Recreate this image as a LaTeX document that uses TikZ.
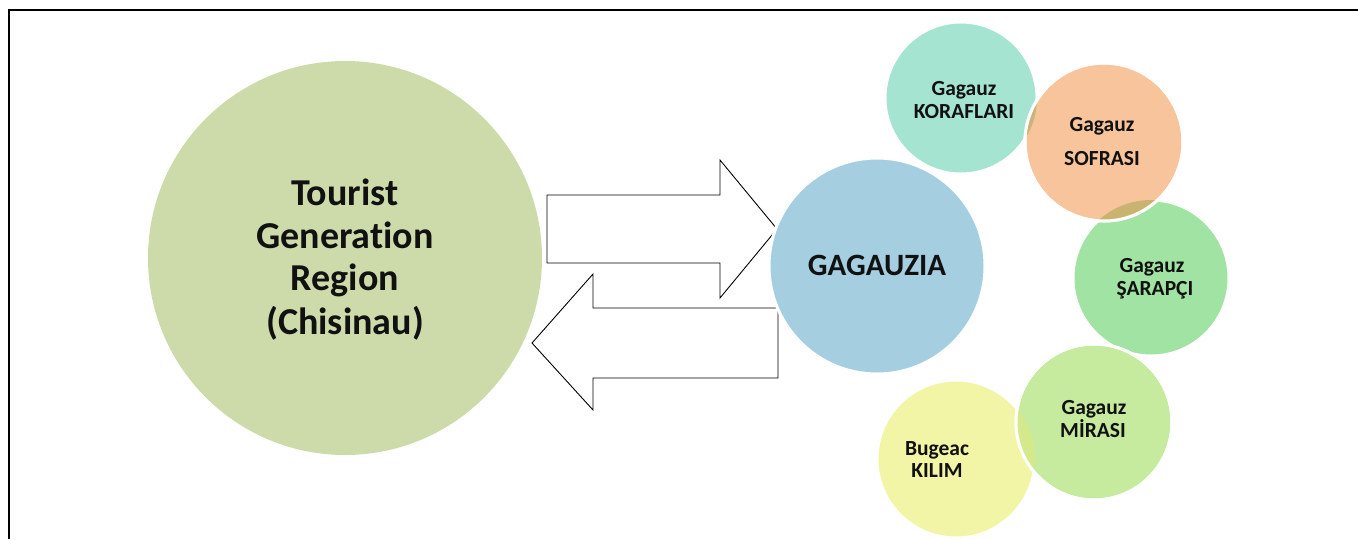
\documentclass[tikz,border=0pt]{standalone}
\usepackage{fontspec}
\setmainfont{Carlito}[Ligatures=NoCommon]
\definecolor{bigG}{HTML}{CCDBA9}
\definecolor{blueC}{HTML}{A5CFE0}
\definecolor{tealC}{HTML}{A5E4D1}
\definecolor{peachC}{HTML}{F8C49C}
\definecolor{sarC}{HTML}{A0E3A3}
\definecolor{mirC}{HTML}{C6EB9E}
\definecolor{kilC}{HTML}{F2F4A6}
\definecolor{lensTP}{HTML}{C7B67B}
\definecolor{lensPS}{HTML}{C9B370}
\definecolor{lensSM}{HTML}{8FD98E}
\definecolor{lensMK}{HTML}{D3E98B}
\definecolor{txt}{HTML}{111111}
\begin{document}
\begin{tikzpicture}[x=1pt,y=-1pt,
  bub/.style={circle,draw=white,line width=3pt,inner sep=0pt,outer sep=0pt},
  ring/.style={draw=white,line width=3pt},
  lbl/.style={anchor=base,inner sep=0pt,text=txt,font=\bfseries\fontsize{21.5}{25}\selectfont},
  biglbl/.style={anchor=base,inner sep=0pt,text=txt,font=\bfseries\fontsize{38}{44}\selectfont},
  arr/.style={draw=black,fill=white,line width=0.9pt,line join=miter}]
\useasboundingbox (0,0) rectangle (1358,539);
% frame
\draw[line width=2pt] (9,539) -- (9,10) -- (1358,10);

% big source circle
\node[circle,fill=bigG,inner sep=0pt,minimum size=394pt] (tgr) at (345,258) {};

% block arrows
\draw[arr] (547,195) -- (720,195) -- (720,160) -- (777,229) -- (720,298) -- (720,263) -- (547,263) -- cycle;
\draw[arr] (778,308) -- (593,308) -- (593,274) -- (532,343) -- (593,410) -- (593,378) -- (778,378) -- cycle;

% destination circle
\node[bub,fill=blueC,minimum size=216pt] (gag) at (877,266) {};

% satellite circles
\node[bub,fill=kilC,minimum size=158pt] (kil) at (956,459) {};
\node[bub,fill=sarC,minimum size=156pt] (sar) at (1151,278) {};
\node[bub,fill=mirC,minimum size=156pt] (mir) at (1094,422) {};
\begin{scope}
  \clip (kil.center) circle (79);
  \fill[lensMK] (mir.center) circle (78);
\end{scope}
\begin{scope}
  \clip (sar.center) circle (78);
  \fill[lensSM] (mir.center) circle (78);
\end{scope}
\draw[ring] (mir.center) circle (78);
\node[bub,fill=tealC,minimum size=152pt] (kor) at (961,98) {};
\node[bub,fill=peachC,minimum size=158pt] (sof) at (1104,142) {};
\begin{scope}
  \clip (kor.center) circle (76);
  \fill[lensTP] (sof.center) circle (79);
\end{scope}
\begin{scope}
  \clip (sar.center) circle (78);
  \fill[lensPS] (sof.center) circle (79);
\end{scope}
\draw[ring] (sof.center) circle (79);

% texts
\node[biglbl] (tgrA) at (345,205) {Tourist};
\node[biglbl] (tgrB) at (345,248) {Generation};
\node[biglbl] (tgrC) at (345,290) {Region};
\node[biglbl] (tgrD) at (345,334) {(Chisinau)};
\node[anchor=base,inner sep=0pt,text=txt,font=\bfseries\fontsize{31}{36}\selectfont] (gagT) at (877,275) {GAGAUZIA};

\node[lbl] (korA) at (964,95) {Gagauz};
\node[lbl] (korB) at (964,118) {KORAFLARI};
\node[lbl] (sofA) at (1102,131) {Gagauz};
\node[lbl] (sofB) at (1102,165) {SOFRASI};
\node[lbl] (sarA) at (1152,272) {Gagauz};
\node[lbl] (sarB) at (1155,295) {ŞARAPÇI};
\node[lbl] (mirA) at (1094,414) {Gagauz};
\node[lbl] (mirB) at (1093,437) {MİRASI};
\node[lbl] (kilA) at (937,455) {Bugeac};
\node[lbl] (kilB) at (937,477) {KILIM};
\end{tikzpicture}
\end{document}
